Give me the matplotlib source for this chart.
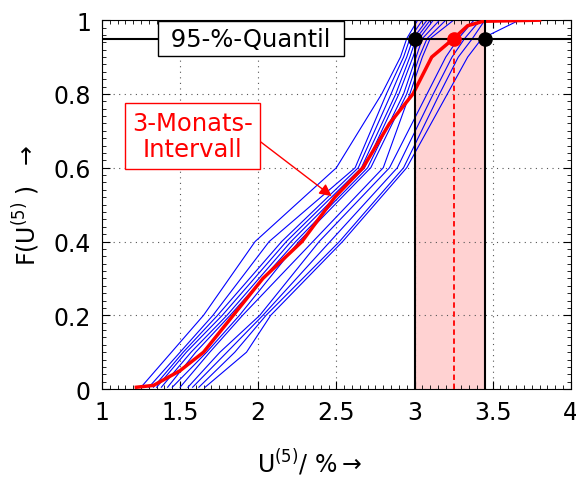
import matplotlib
matplotlib.use('Agg')
import matplotlib.pyplot as plt
from matplotlib.ticker import MultipleLocator

plt.rcParams['font.family'] = ['DejaVu Sans']
plt.rcParams['mathtext.fontset'] = 'dejavusans'

f_levels = [0.005, 0.1, 0.2, 0.4, 0.6, 0.8, 0.9, 0.95, 1.0]

# single-month curves: U(5) values at f_levels
blue_curves = [
    [1.25, 1.445, 1.65, 1.98, 2.50, 2.79, 2.91, 2.95, 3.02],
    [1.30, 1.50, 1.71, 2.07, 2.62, 2.82, 2.93, 2.97, 3.05],
    [1.33, 1.52, 1.74, 2.15, 2.64, 2.85, 2.95, 2.99, 3.08],
    [1.35, 1.54, 1.77, 2.18, 2.66, 2.88, 2.97, 3.01, 3.10],
    [1.38, 1.57, 1.80, 2.21, 2.68, 2.90, 2.99, 3.03, 3.12],
    [1.42, 1.60, 1.82, 2.24, 2.70, 2.93, 3.01, 3.05, 3.16],
    [1.45, 1.67, 1.88, 2.26, 2.72, 2.95, 3.03, 3.08, 3.20],
    [1.50, 1.69, 1.90, 2.35, 2.80, 2.97, 3.05, 3.10, 3.25],
    [1.55, 1.755, 2.01, 2.39, 2.84, 3.08, 3.20, 3.28, 3.38],
    [1.58, 1.80, 2.03, 2.46, 2.89, 3.12, 3.24, 3.32, 3.42],
    [1.62, 1.85, 2.05, 2.52, 2.93, 3.16, 3.28, 3.37, 3.45],
    [1.66, 1.925, 2.08, 2.54, 2.95, 3.21, 3.34, 3.43, 3.67],
]

# 3-month interval curve
red_x = [1.22, 1.33, 1.50, 1.65, 1.84, 2.03, 2.28, 2.49, 2.67, 2.84, 2.99, 3.11, 3.25, 3.34, 3.44, 3.80]
red_f = [0.005, 0.01, 0.05, 0.10, 0.20, 0.30, 0.40, 0.52, 0.60, 0.72, 0.80, 0.90, 0.95, 0.985, 0.997, 1.0]

quantile = 0.95
q_low, q_high = 3.0, 3.45
q_red = 3.25

fig = plt.figure(figsize=(5.76, 4.81), dpi=100)
ax = fig.add_axes([0.177, 0.189, 0.814, 0.767])

ax.axvspan(q_low, q_high, color='#ffd2d2', zorder=0, lw=0)

for c in blue_curves:
    ax.plot(c, f_levels, color='#0000ff', lw=0.8, zorder=2)
ax.plot(red_x, red_f, color='#ff0000', lw=2.5, zorder=3)

ax.axhline(quantile, color='black', lw=1.5, zorder=4)
ax.axvline(q_low, color='black', lw=1.5, zorder=4)
ax.axvline(q_high, color='black', lw=1.5, zorder=4)
ax.plot([q_red, q_red], [0, quantile], color='#ff0000', lw=1.3, ls='--', dashes=(3, 2), zorder=4)
ax.plot([q_low, q_high], [quantile, quantile], 'o', color='black', ms=9.5, zorder=5)
ax.plot([q_red], [quantile], 'o', color='#ff0000', ms=9.5, zorder=6)

ax.text(1.953, quantile, ' 95-%-Quantil ', fontsize=17.5, ha='center', va='center', zorder=7,
        bbox=dict(boxstyle='square,pad=0.22', fc='white', ec='black', lw=1))

ax.annotate('3-Monats-\nIntervall', xy=(2.47, 0.523), xytext=(1.58, 0.686),
            fontsize=17.5, color='#ff0000', ha='center', va='center', zorder=7,
            linespacing=1.15,
            bbox=dict(boxstyle='square,pad=0.3', fc='white', ec='#ff0000', lw=1),
            arrowprops=dict(arrowstyle='-|>', color='#ff0000', lw=1, relpos=(1, 0.5),
                            mutation_scale=18, shrinkA=0, shrinkB=0))

ax.set_xlim(1, 4)
ax.set_ylim(0, 1)
ax.xaxis.set_minor_locator(MultipleLocator(0.05))
ax.yaxis.set_minor_locator(MultipleLocator(0.02))
ax.set_xticks([1, 1.5, 2, 2.5, 3, 3.5, 4])
ax.set_xticklabels(['1', '1.5', '2', '2.5', '3', '3.5', '4'])
ax.set_yticks([0, 0.2, 0.4, 0.6, 0.8, 1])
ax.set_yticklabels(['0', '0.2', '0.4', '0.6', '0.8', '1'])
ax.tick_params(which='both', direction='in', top=True, right=True, labelsize=17)
ax.tick_params(which='major', length=6, pad=8)
ax.tick_params(which='minor', length=3)
ax.grid(True, which='major', ls=(0, (1, 4)), color='#555555', lw=0.8)
ax.set_axisbelow(True)

ax.set_xlabel('U$^{(5)}$/ %$\\rightarrow$', fontsize=17)
ax.xaxis.set_label_coords(0.443, -0.155)
ax.set_ylabel('F(U$^{(5)}$ )  $\\rightarrow$', fontsize=17)
ax.yaxis.set_label_coords(-0.128, 0.5)

fig.savefig('out.png', dpi=100)
